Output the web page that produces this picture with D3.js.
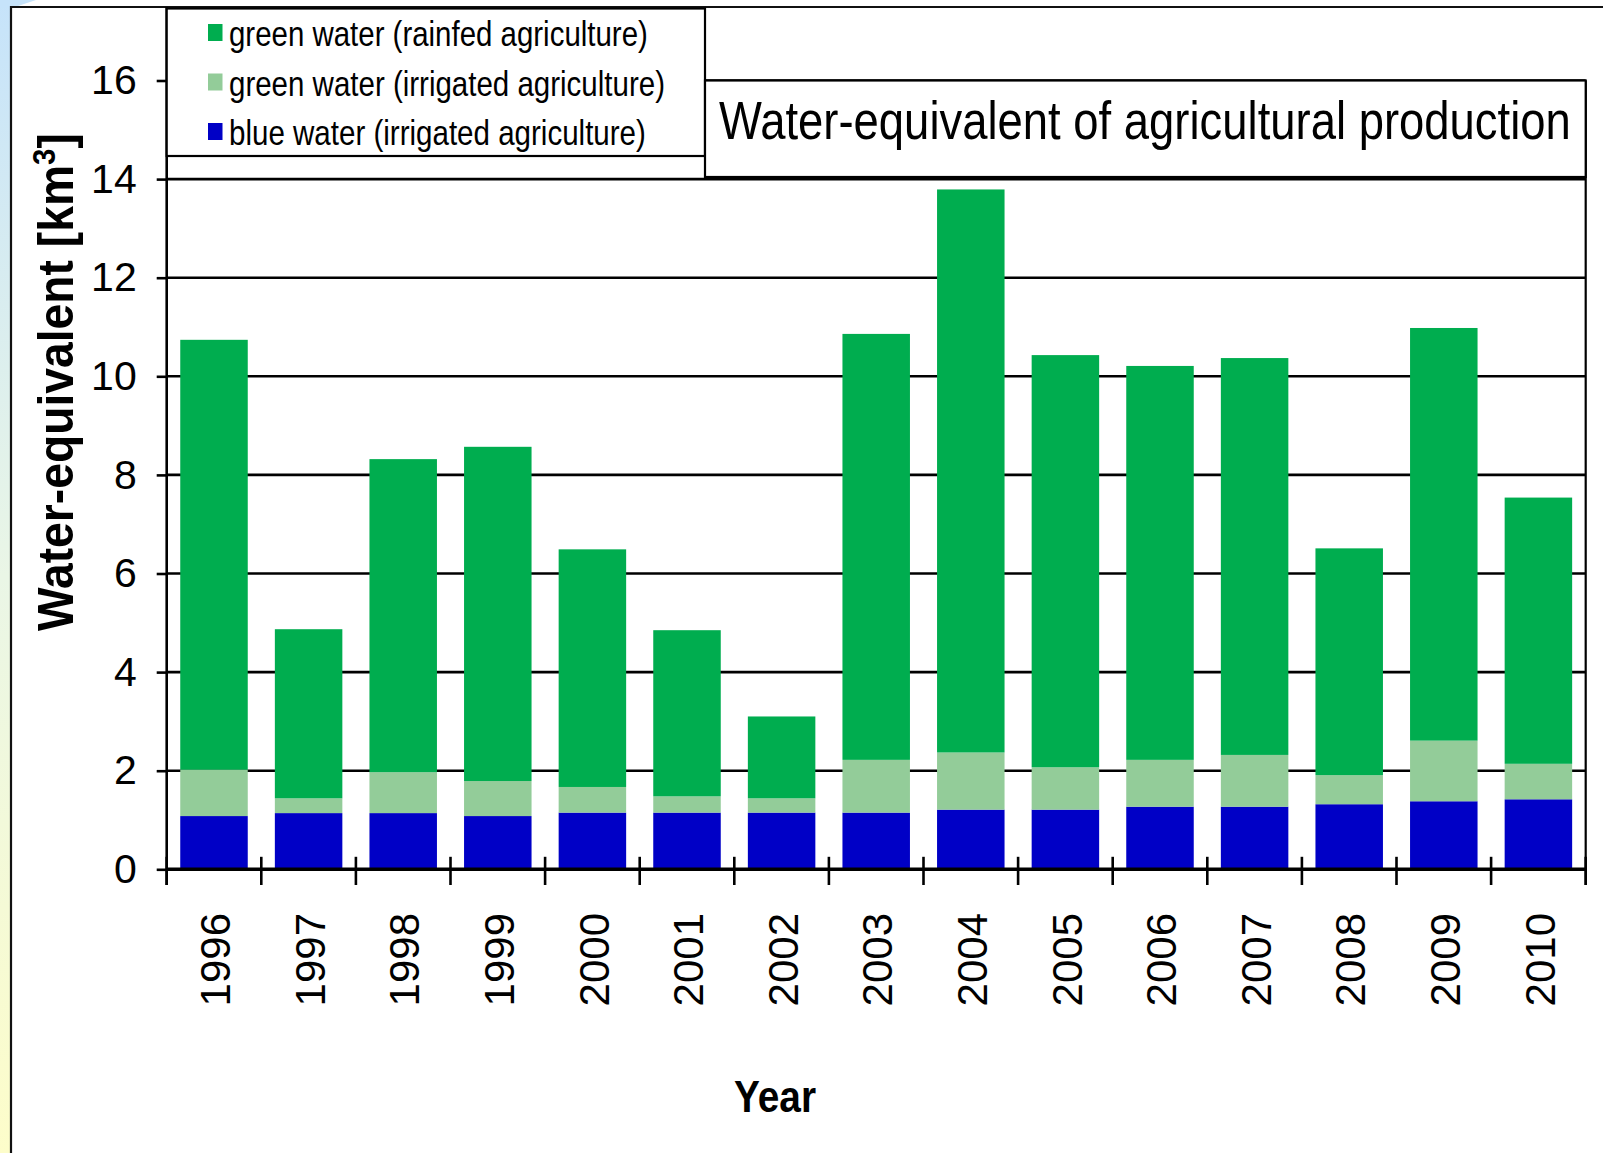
<!DOCTYPE html>
<html>
<head>
<meta charset="utf-8">
<script src="https://cdn.jsdelivr.net/npm/d3@7"></script>
<style>
  html, body { margin: 0; padding: 0; background: #fff; }
  svg { display: block; }
  text { font-family: "Liberation Sans", Arial, sans-serif; fill: #000; }
  .narrow { font-family: "Liberation Sans Narrow", "Arial Narrow", "Liberation Sans", Arial, sans-serif; }
</style>
</head>
<body>
<svg id="chart" width="1603" height="1153"></svg>
<script>
// Years on the category axis
const years = ["1996", "1997", "1998", "1999", "2000", "2001", "2002", "2003",
               "2004", "2005", "2006", "2007", "2008", "2009", "2010"];

// Water-equivalent components, km³ (stacked bottom to top)
const blueIrrigated  = [1.08, 1.14, 1.14, 1.08, 1.15, 1.15, 1.15, 1.15, 1.21, 1.21, 1.27, 1.27, 1.32, 1.38, 1.42];
const greenIrrigated = [0.94, 0.30, 0.83, 0.71, 0.52, 0.33, 0.29, 1.07, 1.16, 0.86, 0.95, 1.05, 0.59, 1.23, 0.72];
const greenRainfed   = [8.72, 3.43, 6.35, 6.78, 4.82, 3.37, 1.66, 8.64, 11.42, 8.36, 7.99, 8.05, 4.60, 8.37, 5.40];

// Y axis ticks
const yTicks = [0, 2, 4, 6, 8, 10, 12, 14, 16];

// Series names and colours (legend order: top to bottom)
const seriesKeys   = ["greenRainfed", "greenIrrigated", "blueIrrigated"];
const seriesLabels = ["green water (rainfed agriculture)",
                      "green water (irrigated agriculture)",
                      "blue water (irrigated agriculture)"];
const seriesColors = ["#00ad4f", "#93cc99", "#0000c6"];

const chartTitle = "Water-equivalent of agricultural production";
const xTitle = "Year";

const svg = d3.select("#chart");

// Squeeze a text horizontally so that it spans the given width (condensed look)
function condense(sel, x0, y0, width) {
  sel.each(function () {
    const w = this.getComputedTextLength();
    const k = w > 0 ? width / w : 1;
    d3.select(this).attr("transform", `translate(${x0},${y0}) scale(${k},1)`);
  });
}

// ---- slide background strip with blue→yellow gradient ----
const defs = svg.append("defs");
const grad = defs.append("linearGradient")
  .attr("id", "slideBg").attr("x1", 0).attr("y1", 0).attr("x2", 0).attr("y2", 1);
grad.append("stop").attr("offset", "0%").attr("stop-color", "#c6e3fa");
grad.append("stop").attr("offset", "50%").attr("stop-color", "#eaf6e6");
grad.append("stop").attr("offset", "100%").attr("stop-color", "#fdfdca");
svg.append("rect").attr("x", 0).attr("y", 0).attr("width", 12).attr("height", 1153)
  .attr("fill", "url(#slideBg)");
svg.append("path").attr("d", "M0,0 L36,0 L12,8 L0,8 Z").attr("fill", "#c6e3fa");

// Chart frame
svg.append("path").attr("d", "M11,1153 L11,7 L1603,7")
  .attr("fill", "none").attr("stroke", "#111").attr("stroke-width", 2.2);

// ---- scales ----
const x = d3.scaleBand()
  .domain(years)
  .range([166.7, 1585.7])
  .paddingInner(0.2865)
  .paddingOuter(0.2865 / 2);

const y = d3.scaleLinear().domain([0, 16]).range([869.3, 80.5]);

// ---- gridlines ----
svg.append("g").selectAll("line")
  .data(yTicks.filter(t => t > 0))
  .join("line")
  .attr("x1", x.range()[0]).attr("x2", x.range()[1])
  .attr("y1", d => y(d)).attr("y2", d => y(d))
  .attr("stroke", "#000").attr("stroke-width", 2.6);

// ---- stacked bars ----
const rows = years.map((yr, i) => ({
  year: yr,
  blueIrrigated: blueIrrigated[i],
  greenIrrigated: greenIrrigated[i],
  greenRainfed: greenRainfed[i]
}));
const stackOrder = ["blueIrrigated", "greenIrrigated", "greenRainfed"];
const stacked = d3.stack().keys(stackOrder)(rows);
const colorOf = d3.scaleOrdinal().domain(seriesKeys).range(seriesColors);

svg.append("g").selectAll("g")
  .data(stacked)
  .join("g")
  .attr("fill", d => colorOf(d.key))
  .selectAll("rect")
  .data(d => d)
  .join("rect")
  .attr("x", d => x(d.data.year))
  .attr("width", x.bandwidth())
  .attr("y", d => y(d[1]))
  .attr("height", d => y(d[0]) - y(d[1]));

// ---- y axis ----
const yAxis = d3.axisLeft(y).tickValues(yTicks).tickSize(10).tickPadding(20)
  .tickFormat(d3.format("d"));
const gy = svg.append("g").attr("transform", `translate(${x.range()[0]},0)`).call(yAxis);
gy.select(".domain").remove();
gy.selectAll(".tick line").attr("stroke", "#000").attr("stroke-width", 2.6);
gy.selectAll(".tick text")
  .attr("font-size", 41).attr("fill", "#000")
  .style("font-family", "'Liberation Sans', Arial, sans-serif");

// vertical axis line (runs up to the frame)
svg.append("line")
  .attr("x1", x.range()[0]).attr("x2", x.range()[0])
  .attr("y1", 7).attr("y2", 885)
  .attr("stroke", "#000").attr("stroke-width", 2.6);
// right edge of plot area
svg.append("line")
  .attr("x1", x.range()[1]).attr("x2", x.range()[1])
  .attr("y1", y(16)).attr("y2", 885)
  .attr("stroke", "#000").attr("stroke-width", 2.2);

// ---- x axis: baseline and category boundary ticks ----
svg.append("line")
  .attr("x1", x.range()[0]).attr("x2", x.range()[1])
  .attr("y1", y(0)).attr("y2", y(0))
  .attr("stroke", "#000").attr("stroke-width", 3.4);

const boundaries = d3.range(years.length + 1).map(i => x.range()[0] + i * x.step());
svg.append("g").selectAll("line")
  .data(boundaries)
  .join("line")
  .attr("x1", d => d).attr("x2", d => d)
  .attr("y1", y(0) - 12.5).attr("y2", 885)
  .attr("stroke", "#000").attr("stroke-width", 2.6);

svg.append("g").selectAll("text")
  .data(years)
  .join("text")
  .attr("transform", d => `translate(${x(d) + x.bandwidth() / 2 + 1},913) rotate(-90)`)
  .attr("text-anchor", "end")
  .attr("dy", "0.36em")
  .attr("font-size", 42)
  .text(d => d);

// ---- axis titles ----
const yTitle = svg.append("text")
  .attr("font-size", 50)
  .attr("font-weight", "bold");
yTitle.append("tspan").text("Water-equivalent [km");
yTitle.append("tspan").attr("font-size", 32).attr("dy", -18).text("3");
yTitle.append("tspan").attr("dy", 18).text("]");
{
  const w = yTitle.node().getComputedTextLength();
  const k = 498 / w;
  // rotated reading upward, centred on y = 382, baseline at x = 73
  yTitle.attr("transform", `translate(73,631) rotate(-90) scale(${k},1)`);
}

const xTitleText = svg.append("text")
  .attr("font-size", 44)
  .attr("font-weight", "bold")
  .text(xTitle);
condense(xTitleText, 734, 1112, 82);

// ---- legend box ----
svg.append("rect")
  .attr("x", 166.7).attr("y", 8.5).attr("width", 705 - 166.7).attr("height", 156 - 8.5)
  .attr("fill", "#fff").attr("stroke", "#000").attr("stroke-width", 2.2);

const legendLengths = [419, 436, 417];
const legend = svg.append("g").selectAll("g")
  .data(seriesKeys)
  .join("g")
  .attr("transform", (d, i) => `translate(208,${46 + i * 49.5})`);
legend.append("rect")
  .attr("x", 0).attr("y", -22).attr("width", 14.5).attr("height", 17)
  .attr("fill", d => colorOf(d));
legend.append("text")
  .attr("class", "narrow")
  .attr("font-size", 35)
  .text((d, i) => seriesLabels[i])
  .each(function (d, i) {
    condense(d3.select(this), 21, 0, legendLengths[i]);
  });

// ---- title box ----
svg.append("rect")
  .attr("x", 705).attr("y", y(16)).attr("width", x.range()[1] - 705).attr("height", 177 - y(16))
  .attr("fill", "#fff").attr("stroke", "#000").attr("stroke-width", 2.2);
const titleText = svg.append("text")
  .attr("class", "narrow")
  .attr("font-size", 54)
  .text(chartTitle);
condense(titleText, 719, 139, 852);
</script>
</body>
</html>
